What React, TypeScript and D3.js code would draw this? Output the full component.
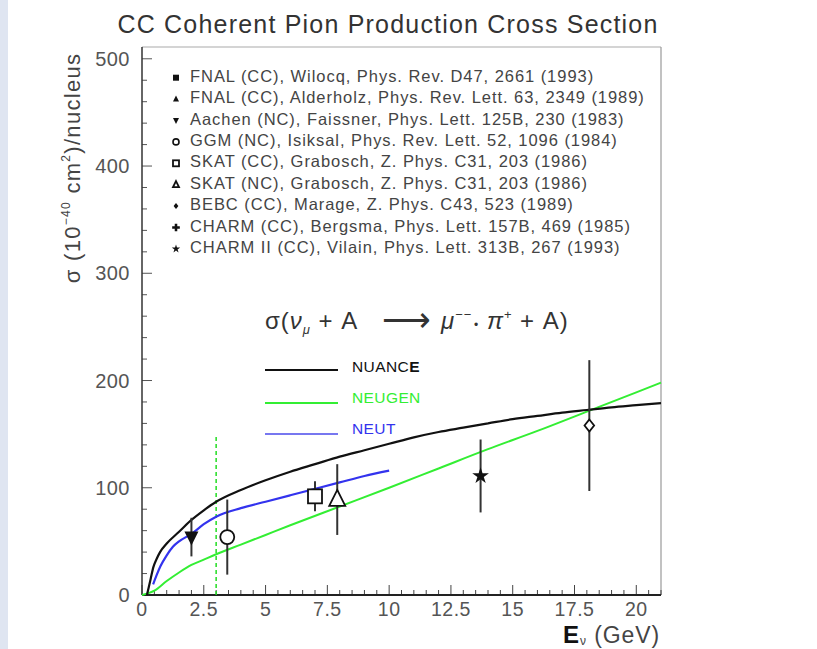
import React from "react";
import * as d3 from "d3";

const nuanceCurve: [number, number][] = [[0.2,0],[0.35,15],[0.46,26],[0.6,34],[0.73,40],[1.0,48],[1.5,59],[2,70],[2.5,79],[3,87],[4,98],[5,107],[6,115],[7,122],[8,129],[9,135],[10,141],[11,147],[12,152],[13,156],[14,160],[15,164],[16,167],[17,170],[18,172.5],[19,175],[20,177],[21,179]];
const neugenCurve: [number, number][] = [[0,0],[0.5,4],[1,13],[1.5,21],[2,28],[2.5,33],[3,38],[4,47],[5,56],[6,65],[8,82.5],[10,100],[12,118],[14,136],[16,153],[18,171],[20,189],[21,198]];
const neutCurve: [number, number][] = [[0.45,10],[0.6,19],[0.75,27],[1.0,37],[1.25,45],[1.5,50],[2,57],[2.5,66],[3,73],[4,81],[5,87],[6,93],[7,99],[8,105],[9,111],[10,116]];

const threshold = { x: 3, top: 150 };

type Pt = { x: number; y: number; err: number; kind: string };
const dataPoints: Pt[] = [
  { x: 2.0, y: 54, err: 18, kind: "downFilled" },
  { x: 3.45, y: 54, err: 35, kind: "circleOpen" },
  { x: 7.0, y: 92, err: 14, kind: "squareOpen" },
  { x: 7.9, y: 89, err: 33, kind: "triangleOpen" },
  { x: 13.7, y: 111, err: 34, kind: "star" },
  { x: 18.1, y: 158, err: 61, kind: "diamondOpen" },
];

const legendEntries = [
  "FNAL (CC), Wilocq, Phys. Rev. D47, 2661 (1993)",
  "FNAL (CC), Alderholz, Phys. Rev. Lett. 63, 2349 (1989)",
  "Aachen (NC), Faissner, Phys. Lett. 125B, 230 (1983)",
  "GGM (NC), Isiksal, Phys. Rev. Lett. 52, 1096 (1984)",
  "SKAT (CC), Grabosch, Z. Phys. C31, 203 (1986)",
  "SKAT (NC), Grabosch, Z. Phys. C31, 203 (1986)",
  "BEBC (CC), Marage, Z. Phys. C43, 523 (1989)",
  "CHARM (CC), Bergsma, Phys. Lett. 157B, 469 (1985)",
  "CHARM II (CC), Vilain, Phys. Lett. 313B, 267 (1993)",
];
const legendMarkers = ["squareFilled","triangleFilled","downFilled","circleDot","squareOpen","triangleOpen","diamondFilled","crossFilled","star"];

const xTicks = [0, 2.5, 5, 7.5, 10, 12.5, 15, 17.5, 20];
const xTickLabels = ["0", "2.5", "5", "7.5", "10", "12.5", "15", "17.5", "20"];
const yTicks = [0, 100, 200, 300, 400, 500];

const FONT = "'Liberation Sans', Arial, sans-serif";

function marker(kind: string, cx: number, cy: number, s: number, key?: any) {
  const sw = 1.8;
  const col = "#111";
  switch (kind) {
    case "squareFilled":
      return <rect key={key} x={cx - s / 2} y={cy - s / 2} width={s} height={s} fill={col} />;
    case "squareOpen":
      return <rect key={key} x={cx - s / 2} y={cy - s / 2} width={s} height={s} fill="white" stroke={col} strokeWidth={sw} />;
    case "triangleFilled":
      return <path key={key} d={`M${cx},${cy - s * 0.6}L${cx + s / 2},${cy + s * 0.4}L${cx - s / 2},${cy + s * 0.4}Z`} fill={col} />;
    case "triangleOpen":
      return <path key={key} d={`M${cx},${cy - s * 0.6}L${cx + s / 2},${cy + s * 0.4}L${cx - s / 2},${cy + s * 0.4}Z`} fill="white" stroke={col} strokeWidth={sw} />;
    case "downFilled":
      return <path key={key} d={`M${cx},${cy + s * 0.6}L${cx + s / 2},${cy - s * 0.4}L${cx - s / 2},${cy - s * 0.4}Z`} fill={col} />;
    case "circleOpen":
      return <circle key={key} cx={cx} cy={cy} r={s / 2} fill="white" stroke={col} strokeWidth={sw} />;
    case "circleDot":
      return <circle key={key} cx={cx} cy={cy} r={s / 2} fill="white" stroke={col} strokeWidth={1.6} />;
    case "diamondOpen":
      return <path key={key} d={`M${cx},${cy - s / 2}L${cx + s * 0.4},${cy}L${cx},${cy + s / 2}L${cx - s * 0.4},${cy}Z`} fill="white" stroke={col} strokeWidth={sw} />;
    case "diamondFilled":
      return <path key={key} d={`M${cx},${cy - s / 2}L${cx + s * 0.4},${cy}L${cx},${cy + s / 2}L${cx - s * 0.4},${cy}Z`} fill={col} />;
    case "crossFilled": {
      const p = d3.symbol(d3.symbolCross, s * s * 0.9)();
      return <path key={key} d={p || ""} transform={`translate(${cx},${cy})`} fill={col} />;
    }
    case "star": {
      const p = d3.symbol(d3.symbolStar, s * s * 0.6)();
      return <path key={key} d={p || ""} transform={`translate(${cx},${cy})`} fill={col} />;
    }
  }
  return null;
}

export default function App() {
  const W = 817, H = 649;
  const x = d3.scaleLinear().domain([0, 21]).range([142, 661]);
  const y = d3.scaleLinear().domain([0, 511]).range([595, 47]);
  const line = d3.line<[number, number]>().x(d => x(d[0])).y(d => y(d[1])).curve(d3.curveMonotoneX);

  const xMinor = d3.range(0, 21.01, 0.5);
  const yMinor = d3.range(0, 511, 20);

  const legendY0 = 75.7, legendDy = 21.4;

  return (
    <svg width={W} height={H} style={{ position: "absolute", left: 0, top: 0, background: "white" }} fontFamily={FONT}>
      <rect x={0} y={0} width={8} height={H} fill="#dfe5f1" />
      <text x={388} y={33} textAnchor="middle" fontSize={25} letterSpacing={1.2} fill="#333">CC Coherent Pion Production Cross Section</text>

      {/* frame */}
      <line x1={x(0)} x2={x(21)} y1={y(511)} y2={y(511)} stroke="#aaa" strokeWidth={1.2} />
      <line x1={x(21)} x2={x(21)} y1={y(511)} y2={y(0)} stroke="#999" strokeWidth={1.2} />

      {/* ticks */}
      {xMinor.map((t, i) => {
        const major = Math.abs(t / 2.5 - Math.round(t / 2.5)) < 1e-6;
        return <line key={"xm" + i} x1={x(t)} x2={x(t)} y1={y(0)} y2={y(0) - (major ? 10 : 5)} stroke="#444" strokeWidth={1} />;
      })}
      {yMinor.map((t, i) => {
        const major = t % 100 === 0;
        return <line key={"ym" + i} x1={x(0)} x2={x(0) + (major ? 10 : 5)} y1={y(t)} y2={y(t)} stroke="#555" strokeWidth={1} />;
      })}
      <line x1={x(0)} x2={x(0)} y1={y(511)} y2={y(0)} stroke="#333" strokeWidth={1.5} />
      <line x1={x(0)} x2={x(21)} y1={y(0)} y2={y(0)} stroke="#222" strokeWidth={1.8} />

      {xTicks.map((t, i) => (
        <text key={"xt" + i} x={x(t)} y={616} textAnchor="middle" fontSize={19.5} letterSpacing={0.5} fill="#555">{xTickLabels[i]}</text>
      ))}
      {yTicks.map((t, i) => (
        <text key={"yt" + i} x={130} y={y(t) + 7} textAnchor="end" fontSize={20} letterSpacing={0.5} fill="#555">{t}</text>
      ))}

      {/* axis titles */}
      <text x={660} y={643} textAnchor="end" fontSize={23} letterSpacing={0.9} fill="#444">
        <tspan fontWeight="bold" fontSize={24} fill="#111">E</tspan>
        <tspan fontSize={12} dy={2}>ν</tspan>
        <tspan dy={-2}> (GeV)</tspan>
      </text>
      <text transform="translate(80,168) rotate(-90)" textAnchor="middle" fontSize={22} letterSpacing={1.3} fill="#444">
        σ (10<tspan fontSize={12} dy={-10}>−40</tspan><tspan dy={10}> cm</tspan><tspan fontSize={12} dy={-10}>2</tspan><tspan dy={10}>)/nucleus</tspan>
      </text>

      {/* legend of experiments */}
      {legendEntries.map((s, i) => (
        <g key={"lg" + i}>
          {marker(legendMarkers[i], 176, legendY0 + i * legendDy + 2, 6)}
          <text x={190} y={legendY0 + i * legendDy + 6} fontSize={16.5} letterSpacing={0.95} fill="#444">{s}</text>
        </g>
      ))}

      {/* formula */}
      <text y={329} fontSize={24} letterSpacing={1} fill="#333">
        <tspan x={265}>σ(</tspan><tspan fontStyle="italic">ν</tspan><tspan fontSize={13} dy={5} fontStyle="italic">μ</tspan><tspan dy={-5}> + A</tspan>
        <tspan x={382} fontSize={34} dy={2}>⟶</tspan>
        <tspan x={441} dy={-2} fontStyle="italic">μ</tspan><tspan fontSize={13} dy={-10}>−−</tspan>
        <tspan x={474} dy={10} fontSize={12}>•</tspan>
        <tspan x={487} fontStyle="italic">π</tspan><tspan fontSize={13} dy={-10}>+</tspan>
        <tspan x={520} dy={10}>+ A)</tspan>
      </text>

      {/* model legend */}
      <line x1={265} x2={338} y1={370} y2={370} stroke="#111" strokeWidth={2} />
      <text x={352} y={372} fontSize={15.5} letterSpacing={0.4} fill="#111">NUANC<tspan fontWeight="bold">E</tspan></text>
      <line x1={265} x2={338} y1={403} y2={403} stroke="#33ee33" strokeWidth={2} />
      <text x={352} y={403} fontSize={15.5} letterSpacing={0.4} fill="#33ee33">NEUGEN</text>
      <line x1={265} x2={338} y1={434} y2={434} stroke="#7777f0" strokeWidth={2} />
      <text x={352} y={434} fontSize={15.5} letterSpacing={0.4} fill="#3333ee">NEUT</text>

      {/* threshold */}
      <line x1={x(threshold.x)} x2={x(threshold.x)} y1={y(0)} y2={y(threshold.top)} stroke="#22dd22" strokeWidth={1.5} strokeDasharray="4,3" />

      {/* curves */}
      <path d={line(neugenCurve) || ""} fill="none" stroke="#33ee33" strokeWidth={2} />
      <path d={line(nuanceCurve) || ""} fill="none" stroke="#111" strokeWidth={2.2} />
      <path d={line(neutCurve) || ""} fill="none" stroke="#3333ee" strokeWidth={2.2} />

      {/* data */}
      {dataPoints.map((p, i) => (
        <g key={"dp" + i}>
          <line x1={x(p.x)} x2={x(p.x)} y1={y(p.y - p.err)} y2={y(p.y + p.err)} stroke="#333" strokeWidth={2} />
          {marker(p.kind, x(p.x), y(p.y), p.kind === "star" ? 12 : p.kind === "diamondOpen" ? 12 : p.kind === "triangleOpen" ? 16 : 14)}
        </g>
      ))}
    </svg>
  );
}
